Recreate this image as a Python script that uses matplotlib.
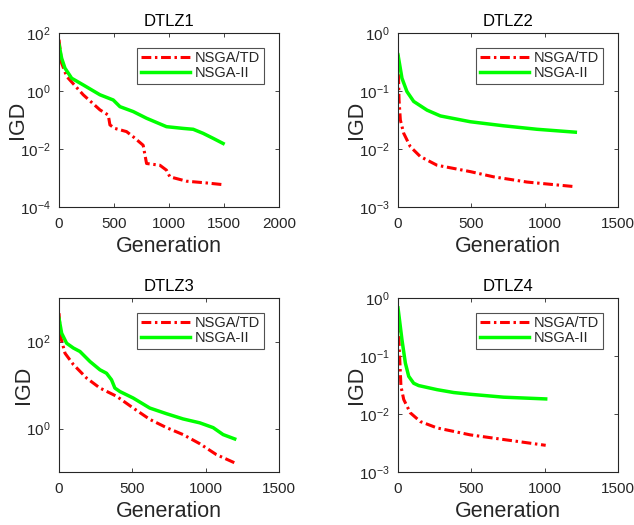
import numpy as np
import matplotlib
matplotlib.use("Agg")
import matplotlib.pyplot as plt

plt.rcParams['font.family'] = ['Liberation Sans', 'DejaVu Sans']

titles = ["DTLZ1", "DTLZ2", "DTLZ3", "DTLZ4"]
series_names = ["NSGA/TD", "NSGA-II"]

# DTLZ1 (log10 IGD)
d1_td_gen = [0, 24, 70, 220, 372, 448, 463, 508, 614, 675, 765, 796, 917, 977, 1008, 1159, 1340, 1492]
d1_td_log = [1.77, 0.96, 0.5, -0.13, -0.65, -0.83, -1.17, -1.29, -1.4, -1.58, -1.87, -2.5, -2.56, -2.73, -2.96, -3.11, -3.17, -3.23]
d1_ii_gen = [0, 24, 54, 115, 220, 372, 493, 554, 675, 796, 977, 1129, 1220, 1310, 1400, 1492]
d1_ii_log = [1.6, 1.13, 0.79, 0.44, 0.21, -0.13, -0.31, -0.54, -0.71, -0.94, -1.23, -1.29, -1.32, -1.46, -1.63, -1.81]

# DTLZ2
d2_td_gen = [0, 7, 16, 39, 84, 152, 266, 493, 652, 880, 1209]
d2_td_log = [-0.375, -1.15, -1.5, -1.73, -1.96, -2.13, -2.28, -2.39, -2.48, -2.57, -2.65]
d2_ii_gen = [0, 27, 61, 107, 198, 289, 493, 720, 948, 1209]
d2_ii_log = [-0.375, -0.78, -1.01, -1.18, -1.33, -1.43, -1.53, -1.6, -1.66, -1.71]

# DTLZ3
d3_td_gen = [0, 11, 41, 98, 188, 279, 393, 506, 619, 733, 846, 960, 1073, 1198]
d3_td_log = [2.65, 2.11, 1.73, 1.47, 1.16, 0.93, 0.74, 0.47, 0.21, 0.02, -0.14, -0.35, -0.6, -0.79]
d3_ii_gen = [0, 18, 52, 98, 143, 211, 279, 324, 358, 381, 415, 506, 619, 733, 846, 960, 1051, 1119, 1198]
d3_ii_log = [2.53, 2.19, 1.96, 1.85, 1.77, 1.54, 1.35, 1.27, 1.12, 0.93, 0.85, 0.7, 0.47, 0.34, 0.22, 0.13, 0.02, -0.14, -0.24]

# DTLZ4
d4_td_gen = [0, 9, 20, 39, 84, 152, 266, 493, 720, 1007]
d4_td_log = [-0.32, -0.89, -1.52, -1.75, -1.98, -2.13, -2.24, -2.36, -2.44, -2.54]
d4_ii_gen = [0, 27, 50, 73, 107, 141, 266, 380, 493, 720, 1007]
d4_ii_log = [-0.17, -0.72, -1.12, -1.35, -1.47, -1.51, -1.58, -1.63, -1.66, -1.71, -1.74]

xlims = [(0, 2000), (0, 1500), (0, 1500), (0, 1500)]
xticks = [[0, 500, 1000, 1500, 2000], [0, 500, 1000, 1500], [0, 500, 1000, 1500], [0, 500, 1000, 1500]]
ylims = [(1e-4, 1e2), (1e-3, 1e0), (1e-1, 1e3), (1e-3, 1e0)]
yticks = [[1e-4, 1e-2, 1e0, 1e2], [1e-3, 1e-2, 1e-1, 1e0], [1e0, 1e2], [1e-3, 1e-2, 1e-1, 1e0]]
ytick_labels = [[r"$10^{-4}$", r"$10^{-2}$", r"$10^{0}$", r"$10^{2}$"],
                [r"$10^{-3}$", r"$10^{-2}$", r"$10^{-1}$", r"$10^{0}$"],
                [r"$10^{0}$", r"$10^{2}$"],
                [r"$10^{-3}$", r"$10^{-2}$", r"$10^{-1}$", r"$10^{0}$"]]

data = [
    (d1_td_gen, d1_td_log, d1_ii_gen, d1_ii_log),
    (d2_td_gen, d2_td_log, d2_ii_gen, d2_ii_log),
    (d3_td_gen, d3_td_log, d3_ii_gen, d3_ii_log),
    (d4_td_gen, d4_td_log, d4_ii_gen, d4_ii_log),
]

plt.rcParams['mathtext.fontset'] = 'custom'
plt.rcParams['mathtext.rm'] = 'Liberation Sans'
plt.rcParams['mathtext.it'] = 'Liberation Sans'

fig = plt.figure(figsize=(6.34, 5.25), dpi=100)
W, H = 634, 525
positions = [(59, 33), (398, 33), (59, 298), (398, 298)]
aw, ah = 220, 174
tc = '#262626'

for i, (px, py) in enumerate(positions):
    ax = fig.add_axes([px / W, 1 - (py + ah) / H, aw / W, ah / H])
    tg, tl, ig, il = data[i]
    ax.plot(tg, 10 ** np.array(tl), color='#ff0000', lw=2.2, linestyle=(0, (3.2, 1.2, 0.8, 1.2)), label=series_names[0])
    ax.plot(ig, 10 ** np.array(il), color='#00ff00', lw=2.5, linestyle='-', label=series_names[1])
    ax.set_yscale('log')
    ax.set_xlim(*xlims[i])
    ax.set_ylim(*ylims[i])
    ax.set_xticks(xticks[i])
    ax.set_yticks(yticks[i])
    ax.set_yticklabels(ytick_labels[i])
    ax.minorticks_off()
    ax.tick_params(direction='in', top=True, right=True, labelsize=11, colors=tc, length=3, width=0.6)
    ax.tick_params(axis='x', pad=7)
    ax.tick_params(axis='y', pad=6)
    for sp in ax.spines.values():
        sp.set_color(tc)
        sp.set_linewidth(0.8)
    ax.set_title(titles[i], fontsize=12, color='black', pad=5)
    ax.set_xlabel("Generation", fontsize=15.5, color=tc, labelpad=4)
    ax.set_ylabel("IGD", fontsize=15.5, color=tc, labelpad=-6)
    leg = ax.legend(loc='upper right', bbox_to_anchor=(0.93, 0.915), fontsize=10.5, frameon=True,
                    fancybox=False, edgecolor=tc, handlelength=3.4, borderpad=0.25, labelspacing=0.05,
                    handletextpad=0.3, borderaxespad=0)
    leg.get_frame().set_linewidth(0.8)
    for t in leg.get_texts():
        t.set_color(tc)

fig.savefig("out.png", dpi=100)
